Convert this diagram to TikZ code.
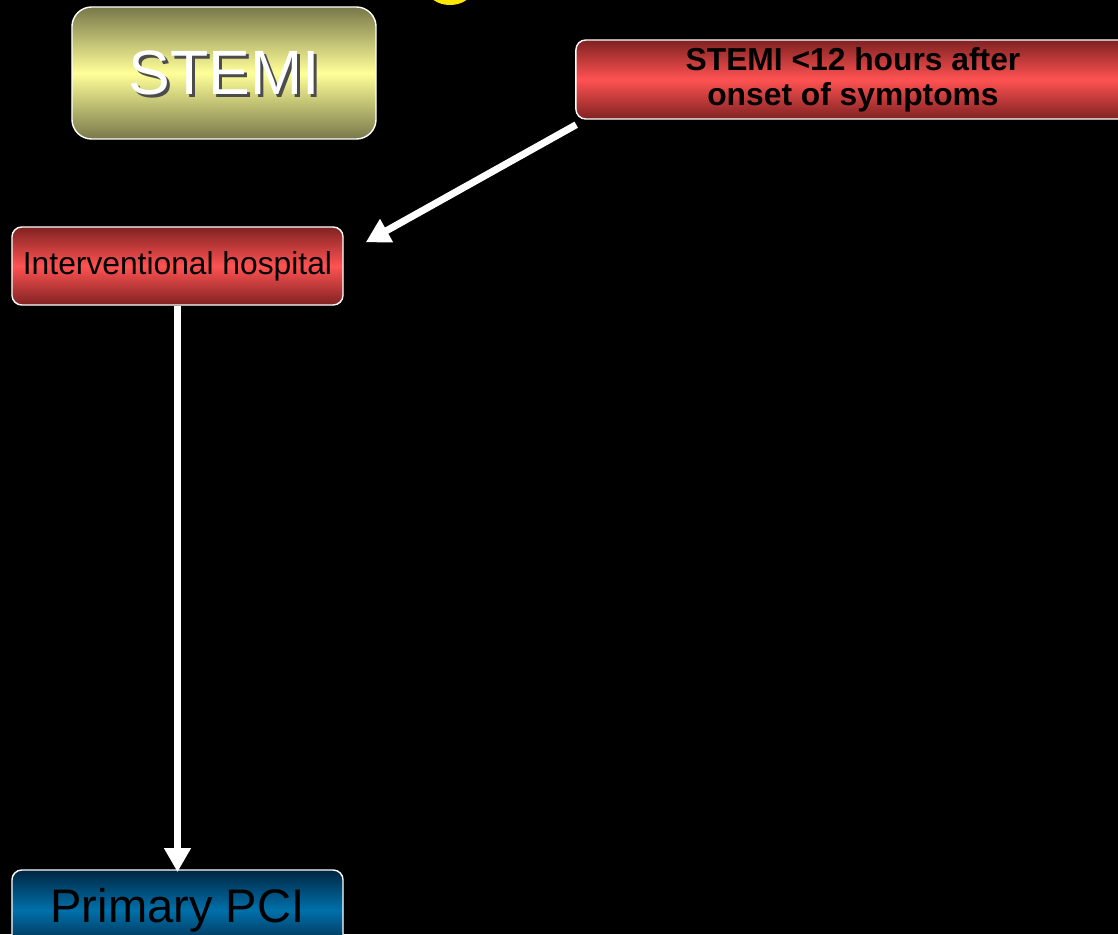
\documentclass[tikz,border=0pt]{standalone}
\usepackage{fontspec}
\setmainfont{Liberation Sans}
\usepackage{tikz}
\usepackage{xcolor}
\usetikzlibrary{arrows.meta}

\definecolor{olivedark}{RGB}{120,120,74}
\definecolor{olivelight}{RGB}{255,255,153}
\definecolor{reddark}{RGB}{128,34,34}
\definecolor{redlight}{RGB}{255,82,82}
\definecolor{bluedark}{RGB}{0,38,66}
\definecolor{bluelight}{RGB}{0,112,170}

\begin{document}
\begin{tikzpicture}[x=0.025cm,y=-0.025cm]
			\useasboundingbox (0,0) rectangle (1118,934);
			\clip (0,0) rectangle (1118,934);
			\fill[black] (0,0) rectangle (1118,934);
			\fill[yellow!90!orange] (450,-10) ellipse (22 and 15);
			\tikzstyle{every node}=[draw=white,line width=1pt,rounded corners=7pt,align=center,inner sep=0pt]
			\tikzstyle{redbox}=[top color=reddark,bottom color=reddark,middle color=redlight]
			\tikzstyle{arr}=[white,line width=5pt,-{Triangle[width=18pt,length=17pt]}]
			\node[top color=olivedark,bottom color=olivedark,middle color=olivelight,rounded corners=14pt,
				minimum width=7.6cm,minimum height=3.3cm] (stemi) at (224,73) {};
			\node[draw=none,fill=none,text=black!70,font=\fontsize{44.5}{50}\selectfont] at (227,76) {STEMI};%shadow
			\node[draw=none,fill=none,text=white,font=\fontsize{44.5}{50}\selectfont] at (224,73) {STEMI};
			\node[redbox,minimum width=13.85cm,minimum height=1.975cm,font=\fontsize{22.6}{24.8}\selectfont\bfseries] (onset) at (853,79.5)
				{STEMI <12 hours after\\ onset of symptoms};
			\node[redbox,minimum width=8.275cm,minimum height=1.95cm,font=\fontsize{22.6}{26}\selectfont] (hosp) at (177.5,266)
				{Interventional hospital};
			\node[top color=bluedark,bottom color=bluedark,middle color=bluelight,
				minimum width=8.275cm,minimum height=2cm,font=\fontsize{33.5}{38}\selectfont] (pci) at (177.5,910)
				{Primary PCI};
			\draw[arr] ([shift={(1,5)}]onset.south west) -- ([shift={(22,16)}]hosp.north east);
			\draw[arr] (hosp.south) -- ([yshift=-2]pci.north);
		\end{tikzpicture}
\end{document}
